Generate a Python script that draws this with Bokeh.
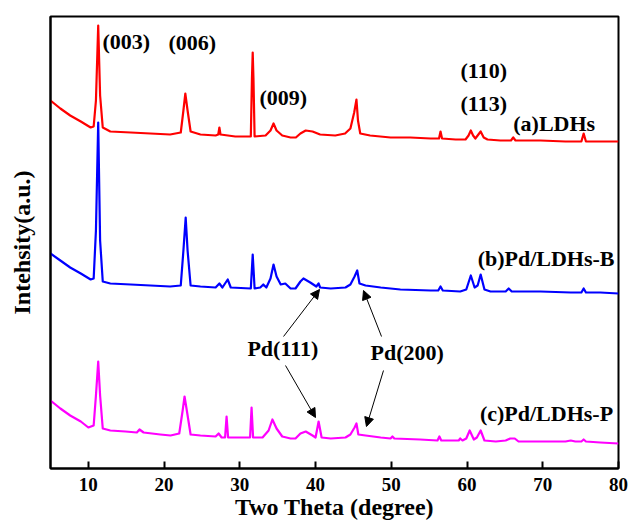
from bokeh.plotting import figure
from bokeh.models import Range1d, FixedTicker, ColumnDataSource, Arrow, NormalHead
from bokeh.core.properties import value
from bokeh.embed import file_html
from bokeh.resources import INLINE

# ---------------- data ----------------
# (a) LDHs : (two theta, intensity a.u. incl. vertical offset)
curve_a = [
    (5.0, 368), (6.3, 360), (7.6, 353), (9.0, 347), (10.3, 341), (10.7, 342), (11.0, 368), (11.3, 443),
    (11.55, 373), (11.9, 341), (12.9, 337), (15.6, 336), (18.2, 335), (20.8, 334), (22.2, 336),
    (22.55, 358), (22.8, 375), (23.1, 358), (23.5, 337), (24.8, 334), (26.8, 333), (27.15, 334),
    (27.3, 341), (27.45, 334), (29.4, 332), (31.45, 332), (31.6, 390), (31.7, 416), (31.8, 390),
    (31.95, 332), (33.4, 333), (34.05, 338), (34.45, 345), (34.85, 338), (35.6, 333), (36.7, 331),
    (37.4, 331), (38.0, 335), (38.7, 338), (39.6, 337), (40.6, 334), (42.6, 333), (43.9, 335),
    (44.6, 340), (45.1, 356), (45.4, 369), (45.6, 348), (45.9, 335), (47.2, 333), (49.9, 331),
    (52.5, 331), (55.2, 330), (56.3, 330), (56.5, 337), (56.7, 330), (58.5, 329), (59.8, 329),
    (60.2, 333), (60.5, 338), (60.8, 333), (61.1, 330), (61.4, 333), (61.8, 337), (62.2, 331),
    (62.7, 329), (64.4, 328), (65.8, 328), (66.1, 331), (66.4, 328), (69.7, 328), (73.0, 327),
    (75.1, 327), (75.4, 335), (75.7, 327), (77.6, 327), (80.0, 327),
]
# (b) Pd/LDHs-B
curve_b = [
    (5.0, 215), (6.3, 208), (7.6, 201), (9.0, 195), (10.3, 189), (10.7, 190), (11.0, 238), (11.3, 346),
    (11.55, 228), (11.9, 187), (12.9, 185), (15.6, 184), (18.2, 183), (20.8, 182), (22.2, 183),
    (22.55, 218), (22.85, 251), (23.1, 218), (23.5, 183), (24.8, 182), (26.8, 181), (27.3, 185),
    (27.7, 181), (28.4, 189), (28.8, 181), (31.45, 180), (31.7, 214), (31.95, 180), (32.7, 181),
    (33.1, 184), (33.5, 181), (34.05, 190), (34.45, 204), (34.85, 192), (35.4, 184), (36.0, 185),
    (36.7, 180), (37.35, 180), (38.0, 187), (38.4, 190), (39.3, 186), (40.1, 182), (40.4, 185),
    (40.6, 181), (42.0, 180), (43.95, 181), (44.6, 184), (45.15, 192), (45.5, 198), (45.8, 185),
    (46.6, 183), (48.6, 181), (51.2, 179), (55.2, 178), (56.2, 178), (56.5, 182), (56.8, 178),
    (59.1, 177), (59.9, 179), (60.5, 193), (61.0, 181), (61.4, 183), (61.8, 194), (62.3, 179),
    (63.1, 177), (65.1, 177), (65.5, 180), (65.9, 177), (69.7, 177), (73.7, 176), (75.1, 176),
    (75.4, 180), (75.7, 176), (77.6, 176), (80.0, 175),
]
# (c) Pd/LDHs-P
curve_c = [
    (5.0, 68), (6.3, 60), (7.6, 53), (9.0, 47), (10.0, 41), (10.7, 43), (11.0, 73), (11.3, 107),
    (11.55, 73), (11.9, 40), (12.9, 38), (14.9, 37), (16.4, 36), (16.75, 39), (17.3, 36), (19.5, 34),
    (20.85, 33), (22.0, 35), (22.45, 58), (22.7, 72), (23.0, 58), (23.5, 34), (24.8, 33), (26.8, 32),
    (27.2, 35), (27.6, 31), (28.05, 31), (28.25, 52), (28.45, 31), (30.1, 31), (31.35, 31),
    (31.55, 61), (31.75, 31), (33.0, 31), (33.8, 38), (34.3, 49), (34.85, 40), (35.6, 32),
    (36.7, 30), (37.35, 30), (38.0, 35), (38.7, 37), (39.6, 33), (40.0, 31), (40.4, 47), (40.8, 31),
    (42.0, 30), (43.95, 31), (44.6, 34), (45.15, 41), (45.4, 45), (45.65, 34), (46.6, 33),
    (48.6, 31), (49.9, 30), (50.15, 32), (50.4, 30), (53.8, 29), (56.1, 28), (56.35, 32), (56.6, 28),
    (58.9, 28), (59.1, 30), (59.4, 28), (59.9, 30), (60.35, 38), (60.9, 29), (61.3, 31), (61.8, 38),
    (62.3, 28), (63.8, 27), (65.1, 28), (65.7, 30), (66.3, 30), (66.8, 27), (69.7, 27), (73.0, 27),
    (73.7, 28), (74.3, 27), (75.1, 27), (75.4, 29), (75.7, 27), (77.6, 26), (80.0, 25),
]

# labels: text, two theta (left edge), intensity (middle)
label_text = ["(003)", "(006)", "(009)", "(110)", "(113)", "(a)LDHs", "(b)Pd/LDHs-B",
              "(c)Pd/LDHs-P", "Pd(111)", "Pd(200)"]
label_x = [11.87, 20.58, 32.6, 59.14, 59.14, 66.1, 61.4, 61.7, 31.0, 47.25]
label_y = [427, 426, 371, 398, 365, 345, 210, 55, 120, 116]

# arrows: (x_start, y_start, x_end, y_end)
arrows = [
    (35.77, 132, 40.52, 179),
    (36.03, 103, 39.99, 51),
    (48.71, 132, 46.33, 178),
    (48.97, 98, 46.72, 42),
]

x_ticks = [10, 20, 30, 40, 50, 60, 70, 80]

# ---------------- figure ----------------
SERIF = "Liberation Serif"

p = figure(width=630, height=525, x_range=Range1d(5, 80), y_range=Range1d(0, 452),
           output_backend="svg", toolbar_location=None,
           min_border_left=50, min_border_right=12, min_border_top=16, min_border_bottom=57)
p.background_fill_color = "white"
p.border_fill_color = "white"
p.xgrid.visible = False
p.ygrid.visible = False
p.outline_line_color = "black"
p.outline_line_width = 2

for curve, color in [(curve_c, "#FF00FF"), (curve_b, "#0000FF"), (curve_a, "#FF0000")]:
    xs = [c[0] for c in curve]
    ys = [c[1] for c in curve]
    p.line(xs, ys, line_color=color, line_width=2.2, line_join="round")

src = ColumnDataSource(dict(x=label_x, y=label_y, t=label_text))
p.text(x="x", y="y", text="t", source=src, text_font=value(SERIF), text_font_style="bold",
       text_font_size="22px", text_color="black", text_align="left", text_baseline="middle")

for (x0, y0, x1, y1) in arrows:
    p.add_layout(Arrow(x_start=x0, y_start=y0, x_end=x1, y_end=y1, line_color="black",
                       line_width=1,
                       end=NormalHead(size=9, fill_color="black", line_color="black", line_width=1)))

xa = p.xaxis[0]
xa.ticker = FixedTicker(ticks=x_ticks)
xa.minor_tick_line_color = None
xa.major_tick_in = 7
xa.major_tick_out = 0
xa.major_tick_line_width = 2
xa.major_tick_line_color = "black"
xa.axis_line_width = 2
xa.axis_line_color = "black"
xa.major_label_standoff = 9
xa.major_label_text_font = SERIF
xa.major_label_text_font_style = "bold"
xa.major_label_text_font_size = "19px"
xa.major_label_text_color = "black"
xa.axis_label = "Two Theta (degree)"
xa.axis_label_text_font = SERIF
xa.axis_label_text_font_style = "bold"
xa.axis_label_text_font_size = "24px"
xa.axis_label_text_color = "black"
xa.axis_label_standoff = 0

ya = p.yaxis[0]
ya.ticker = FixedTicker(ticks=[])
ya.minor_tick_line_color = None
ya.major_tick_in = 0
ya.major_tick_out = 0
ya.axis_line_width = 2
ya.axis_line_color = "black"
ya.axis_label = "Intehsity(a.u.)"
ya.axis_label_text_font = SERIF
ya.axis_label_text_font_style = "bold"
ya.axis_label_text_font_size = "24px"
ya.axis_label_text_color = "black"
ya.axis_label_standoff = 16

open("out.html", "w").write(file_html(p, INLINE))
